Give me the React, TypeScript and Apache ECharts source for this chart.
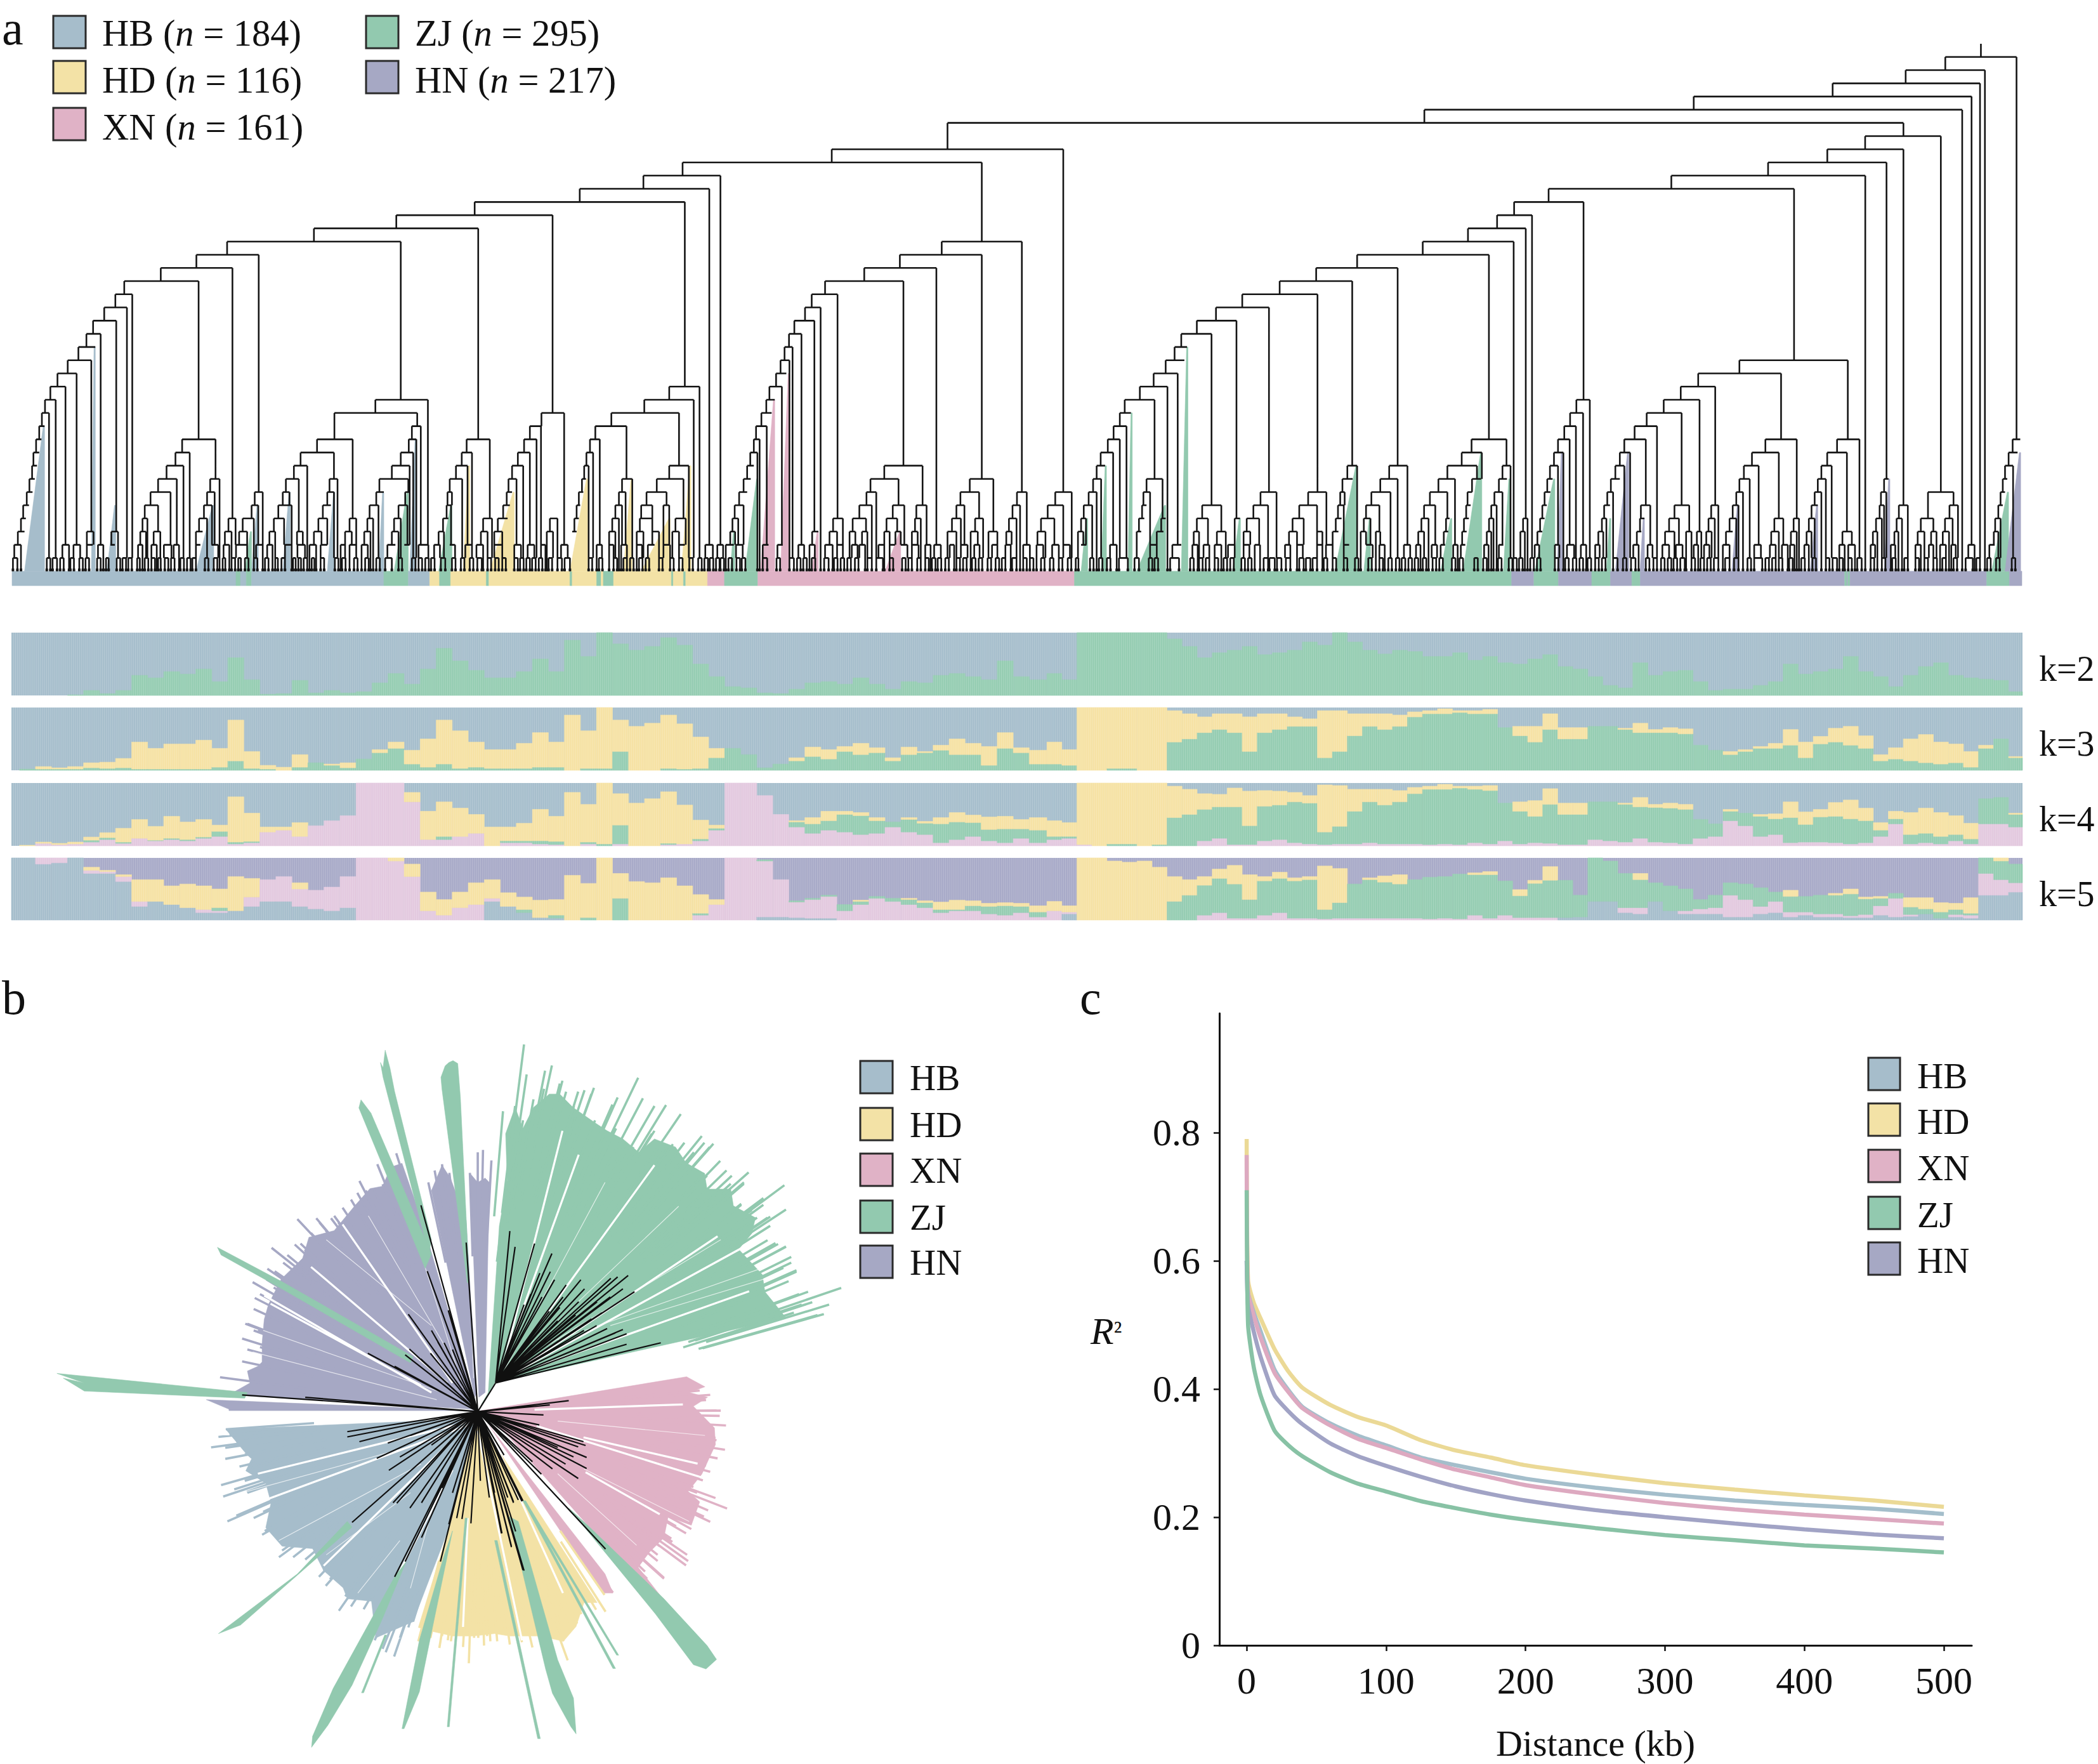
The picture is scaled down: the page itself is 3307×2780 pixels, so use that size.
import React, { useEffect, useRef } from "react";
import * as echarts from "echarts";

const SERIF = '"Liberation Serif"';
const palette: any = { HB: "#A6BDCB", HD: "#F3E2A6", XN: "#E0B2C6", ZJ: "#92C9AF", HN: "#A6A8C4" };
const soft: any = { HB: "#A6BECC", HD: "#F6E2A4", XN: "#E3C9DF", ZJ: "#95CDB2", HN: "#A8AAC8" };
const lineColor: any = { HB: "#A4BECB", HD: "#EBD996", XN: "#DDA9C0", ZJ: "#88C2A5", HN: "#A1A3C5" };

// ---- dendrogram: [level, xLeft, xRight, xLeft, xRight, ...] -------------
const spine = [
  [39, 4369, 4529], [38, 4280, 4458], [37, 4116, 4447], [36, 3804, 4428], [35, 3199, 4407], [34, 2128, 4275],
  [33, 4189, 4359], [32, 1868, 2388, 4104, 4275], [31, 1533, 2205, 3971, 4237],
];
const cladesA = [
  [30, 1445, 1618], [29, 1302, 1593], [28, 1066, 1538], [27, 890, 1241], [26, 705, 1074], [25, 510, 900], [24, 441, 581], [23, 361, 522], [22, 279, 446],
  [21, 259, 297], [20, 234, 285], [19, 209, 261], [18, 194, 226], [17, 176, 214], [16, 152, 205], [15, 129, 172], [14, 113, 147, 1503, 1571],
  [13, 101, 125, 843, 961, 1447, 1558], [12, 94, 110, 751, 937, 1216, 1267, 1373, 1525], [11, 88, 100, 925, 945, 1190, 1215, 1337, 1407],
  [10, 81, 93, 409, 484, 712, 792, 918, 935, 1048, 1100, 1177, 1205, 1325, 1347],
  [9, 75, 88, 394, 426, 675, 750, 900, 928, 1037, 1060, 1163, 1190, 1317, 1332],
  [8, 72, 83, 374, 412, 660, 690, 880, 920, 1024, 1050, 1150, 1175, 1312, 1322, 1503, 1547],
  [7, 66, 78, 355, 397, 472, 493, 642, 671, 740, 758, 852, 917, 1010, 1038, 1142, 1160, 1307, 1316, 1397, 1420, 1475, 1535],
  [6, 60, 73, 338, 383, 465, 482, 572, 590, 635, 650, 735, 750, 845, 862, 910, 920, 1005, 1015, 1138, 1150, 1300, 1310, 1390, 1405, 1452, 1497],
  [5, 52, 65, 325, 355, 458, 476, 565, 580, 625, 655, 725, 743, 830, 850, 895, 915, 1003, 1013, 1130, 1145, 1295, 1303, 1382, 1397, 1440, 1465, 1490, 1503],
  [4, 47, 58, 320, 331, 447, 465, 513, 529, 545, 570, 615, 638, 715, 735, 785, 800, 825, 838, 885, 900, 995, 1007, 1085, 1105, 1118, 1140, 1235, 1252, 1290, 1300, 1375, 1390, 1437, 1465, 1517, 1540],
  [3, 40, 55, 195, 210, 250, 265, 315, 328, 345, 360, 440, 455, 505, 520, 537, 555, 605, 618, 667, 680, 705, 722, 775, 790, 818, 832, 880, 895, 985, 997, 1080, 1095, 1110, 1128, 1228, 1242, 1285, 1295, 1368, 1382, 1430, 1445, 1465, 1480, 1510, 1525],
  [2, 32, 47, 140, 155, 165, 180, 195, 208, 220, 232, 248, 258, 310, 320, 340, 352, 368, 385, 390, 402, 440, 450, 475, 490, 502, 515, 530, 555, 575, 590, 600, 612, 640, 655, 668, 685, 695, 710, 720, 735, 765, 775, 785, 800, 812, 826, 870, 888, 908, 920, 940, 962, 975, 988, 1010, 1022, 1045, 1060, 1070, 1085, 1110, 1128, 1155, 1170, 1185, 1200, 1215, 1225, 1260, 1275, 1340, 1352, 1368, 1378, 1395, 1408, 1430, 1442, 1455, 1470, 1490, 1505, 1525, 1538],
  [1, 29, 39, 105, 113, 118, 128, 135, 143, 158, 166, 178, 186, 192, 200, 218, 226, 238, 244, 262, 270, 275, 283, 288, 296, 308, 314, 325, 333, 340, 348, 355, 361, 370, 378, 384, 392, 405, 413, 420, 428, 432, 440, 460, 468, 480, 488, 500, 506, 520, 528, 535, 541, 550, 558, 570, 578, 595, 603, 618, 624, 632, 640, 658, 664, 670, 676, 682, 690, 700, 706, 720, 728, 752, 760, 768, 776, 795, 803, 820, 828, 845, 853, 865, 880, 895, 903, 925, 933, 940, 948, 955, 963, 968, 976, 990, 1000, 1015, 1023, 1035, 1043, 1055, 1063, 1072, 1082, 1095, 1103, 1112, 1120, 1128, 1136, 1155, 1163, 1168, 1176, 1182, 1190, 1195, 1203, 1210, 1218, 1232, 1240, 1252, 1262, 1268, 1280, 1322, 1330, 1345, 1353, 1378, 1386, 1400, 1408, 1415, 1423, 1435, 1443, 1450, 1458, 1480, 1488, 1505, 1513, 1525, 1533, 1548, 1556],
];
const cladesB = [
  [25, 547, 727], [24, 453, 637, 1480, 1776], [23, 373, 535, 1388, 1571], [22, 285, 461, 1306, 1469], [21, 255, 313, 1222, 1391], [20, 240, 275, 1163, 1282],
  [19, 216, 261, 1120, 1209], [18, 204, 232, 1085, 1153], [17, 194, 212, 1070, 1098], [16, 185, 205, 1050, 1092], [15, 175, 198, 1023, 1077], [14, 160, 188, 992, 1054],
  [13, 153, 172, 958, 1025], [12, 142, 165, 947, 972], [11, 130, 154, 933, 962], [10, 125, 138, 920, 947], [9, 117, 133, 904, 932],
  [8, 110, 125, 418, 504, 895, 914, 1458, 1480, 1552, 1593], [7, 102, 118, 387, 450, 610, 663, 887, 905, 1007, 1043, 1447, 1470, 1532, 1571],
  [6, 92, 110, 378, 400, 589, 631, 716, 738, 802, 839, 877, 895, 1000, 1015, 1263, 1299, 1370, 1411, 1442, 1452, 1512, 1555],
  [5, 82, 102, 362, 390, 437, 463, 490, 513, 580, 598, 706, 723, 785, 820, 866, 885, 997, 1007, 1132, 1175, 1247, 1280, 1350, 1390, 1437, 1450, 1500, 1530],
  [4, 77, 90, 303, 325, 347, 377, 423, 447, 487, 500, 570, 590, 622, 640, 698, 715, 770, 800, 860, 871, 990, 1002, 1040, 1050, 1120, 1145, 1205, 1217, 1232, 1260, 1335, 1360, 1432, 1445, 1495, 1510],
  [3, 72, 83, 256, 270, 295, 312, 340, 353, 368, 380, 418, 430, 443, 455, 480, 493, 560, 580, 612, 628, 652, 672, 692, 704, 762, 780, 853, 865, 985, 995, 1030, 1045, 1113, 1125, 1165, 1185, 1225, 1240, 1327, 1345, 1390, 1402, 1425, 1438, 1488, 1500, 1522, 1532],
  [2, 16, 33, 43, 56, 62, 80, 85, 100, 145, 158, 178, 190, 225, 238, 250, 262, 285, 302, 312, 325, 345, 358, 362, 375, 405, 418, 430, 442, 455, 470, 480, 495, 510, 522, 530, 545, 565, 575, 590, 605, 620, 632, 660, 672, 690, 702, 730, 745, 760, 775, 795, 810, 820, 835, 860, 872, 925, 940, 1015, 1030, 1065, 1085, 1110, 1122, 1135, 1148, 1160, 1175, 1190, 1205, 1225, 1238, 1250, 1262, 1318, 1330, 1345, 1358, 1390, 1402, 1410, 1425, 1450, 1462, 1500, 1515, 1530, 1542],
  [1, 0, 8, 14, 22, 26, 34, 40, 48, 50, 58, 68, 76, 86, 94, 98, 106, 145, 155, 176, 184, 205, 215, 222, 230, 236, 244, 255, 263, 283, 293, 305, 313, 320, 328, 335, 343, 352, 360, 380, 390, 400, 415, 430, 438, 458, 466, 472, 480, 492, 500, 510, 518, 525, 533, 538, 546, 555, 563, 580, 588, 595, 603, 615, 623, 630, 638, 650, 658, 668, 676, 682, 690, 705, 715, 730, 738, 745, 753, 770, 778, 790, 798, 810, 818, 830, 838, 848, 854, 880, 888, 900, 908, 918, 926, 945, 965, 980, 990, 1012, 1020, 1025, 1033, 1060, 1080, 1105, 1113, 1125, 1133, 1140, 1148, 1160, 1168, 1180, 1188, 1195, 1203, 1220, 1228, 1235, 1243, 1270, 1280, 1283, 1295, 1300, 1310, 1320, 1330, 1350, 1360, 1365, 1375, 1380, 1390, 1405, 1413, 1425, 1433, 1450, 1458, 1475, 1483, 1505, 1513, 1530, 1538, 1550, 1558],
];
const cladesC = [
  [30, 615, 1048], [29, 341, 889], [28, 264, 419], [27, 226, 304], [26, 161, 290], [25, 60, 263], [16, 767, 1009], [15, 675, 860], [14, 636, 713],
  [13, 403, 433, 598, 678], [12, 389, 418, 560, 638], [11, 376, 402, 533, 583],
  [10, 169, 247, 362, 388, 510, 558, 825, 895, 985, 1035, 1377, 1394], [9, 147, 192, 353, 374, 500, 523, 795, 855, 963, 1007, 1368, 1388],
  [8, 115, 181, 238, 256, 344, 362, 490, 510, 777, 810, 950, 973, 1360, 1378],
  [7, 95, 132, 170, 190, 230, 248, 338, 350, 480, 500, 767, 790, 942, 960, 1090, 1100, 1355, 1365],
  [6, 76, 115, 160, 170, 220, 238, 332, 345, 472, 485, 760, 775, 935, 950, 1083, 1095, 1188, 1245, 1350, 1360],
  [5, 63, 88, 157, 167, 213, 225, 327, 337, 465, 478, 547, 568, 622, 655, 704, 720, 752, 765, 928, 942, 1080, 1090, 1123, 1143, 1236, 1255, 1345, 1355],
  [4, 57, 73, 112, 120, 152, 163, 208, 218, 284, 294, 322, 332, 460, 470, 545, 555, 610, 632, 698, 712, 745, 760, 845, 865, 888, 900, 922, 935, 1072, 1085, 1118, 1130, 1172, 1200, 1226, 1243, 1338, 1350],
  [3, 50, 63, 107, 117, 148, 158, 203, 213, 278, 288, 316, 327, 452, 463, 538, 548, 601, 622, 648, 660, 672, 682, 693, 705, 737, 752, 838, 855, 882, 895, 917, 928, 997, 1018, 1065, 1075, 1113, 1122, 1165, 1180, 1195, 1207, 1221, 1235, 1335, 1345],
  [2, 18, 32, 45, 55, 80, 92, 100, 110, 128, 138, 145, 155, 197, 207, 230, 240, 310, 320, 355, 365, 382, 398, 413, 425, 445, 455, 530, 542, 562, 573, 595, 610, 625, 640, 665, 675, 688, 700, 730, 745, 800, 815, 835, 848, 862, 875, 880, 890, 912, 922, 990, 1002, 1010, 1025, 1060, 1070, 1105, 1115, 1160, 1172, 1190, 1200, 1215, 1228, 1240, 1250, 1278, 1292, 1325, 1337],
  [1, 0, 8, 13, 21, 28, 36, 42, 50, 60, 68, 82, 90, 97, 105, 125, 133, 142, 150, 175, 183, 195, 203, 228, 236, 252, 260, 262, 270, 275, 283, 300, 308, 315, 323, 355, 363, 378, 386, 395, 403, 410, 418, 428, 436, 445, 453, 460, 468, 485, 495, 507, 515, 525, 535, 558, 566, 575, 583, 592, 600, 607, 615, 620, 628, 635, 645, 660, 668, 680, 688, 695, 703, 710, 720, 735, 745, 755, 765, 785, 793, 800, 818, 825, 833, 840, 848, 855, 863, 878, 886, 905, 913, 930, 938, 960, 968, 975, 985, 990, 998, 1010, 1018, 1030, 1040, 1060, 1068, 1085, 1093, 1108, 1116, 1135, 1143, 1160, 1168, 1180, 1188, 1200, 1208, 1220, 1228, 1245, 1253, 1272, 1288, 1296, 1304, 1320, 1328, 1340, 1348, 1375, 1383],
];
const rootStub = [4449, 39, 40];
// [xLeft, xRight, topLevel, group]: coloured subtree fills behind the branches
const tintsA: any[] = [[55, 100, 11, "HB"], [205, 214, 17, "HB"], [240, 260, 5, "HB"], [440, 480, 5, "HB"], [565, 580, 5, "HB"], [635, 652, 6, "HB"], [735, 752, 6, "HB"], [850, 862, 6, "HB"], [920, 935, 10, "HB"], [885, 917, 6, "ZJ"], [550, 565, 3, "ZJ"], [985, 1015, 5, "ZJ"], [1040, 1055, 8, "HD"], [1100, 1155, 6, "HD"], [1280, 1320, 7, "HD"], [1400, 1420, 7, "HD"], [1440, 1505, 4, "HD"], [1530, 1552, 8, "HD"]];
const tintsB: any[] = [[140, 172, 13, "XN"], [185, 205, 15, "XN"], [255, 270, 3, "XN"], [420, 455, 3, "XN"], [72, 82, 3, "ZJ"], [105, 134, 7, "ZJ"], [860, 875, 4, "ZJ"], [905, 917, 8, "ZJ"], [965, 975, 12, "ZJ"], [985, 1050, 5, "ZJ"], [1085, 1100, 17, "ZJ"], [1200, 1218, 4, "ZJ"], [1430, 1480, 8, "ZJ"], [1495, 1510, 4, "ZJ"]];
const tintsC: any[] = [[150, 192, 9, "ZJ"], [240, 255, 7, "ZJ"], [100, 125, 4, "ZJ"], [310, 355, 7, "ZJ"], [470, 480, 4, "ZJ"], [1330, 1368, 6, "ZJ"], [360, 372, 9, "HN"], [490, 520, 9, "HN"], [545, 555, 4, "HN"], [750, 765, 5, "HN"], [925, 942, 5, "HN"], [1090, 1103, 7, "HN"], [1360, 1395, 9, "HN"]];
// leaf strip: [from, to, group]
const leafStrip: any[] = [[27, 530, "HB"], [530, 540, "ZJ"], [540, 553, "HB"], [553, 565, "ZJ"], [565, 862, "HB"], [862, 917, "ZJ"], [917, 965, "HB"], [965, 987, "HD"], [987, 1012, "ZJ"], [1012, 1092, "HD"], [1092, 1098, "ZJ"], [1098, 1280, "HD"], [1280, 1285, "ZJ"], [1285, 1340, "HD"], [1340, 1350, "ZJ"], [1350, 1355, "HD"], [1355, 1378, "ZJ"], [1378, 1508, "HD"], [1508, 1512, "ZJ"], [1512, 1535, "HD"], [1535, 1540, "ZJ"], [1540, 1589, "HD"], [1589, 1627, "XN"], [1627, 1702, "ZJ"], [1702, 2413, "XN"], [2413, 3395, "ZJ"], [3395, 3445, "HN"], [3445, 3500, "ZJ"], [3500, 3575, "HN"], [3575, 3617, "ZJ"], [3617, 3665, "HN"], [3665, 3684, "ZJ"], [3684, 4143, "HN"], [4143, 4148, "ZJ"], [4148, 4150, "HN"], [4150, 4155, "ZJ"], [4155, 4462, "HN"], [4462, 4513, "ZJ"], [4513, 4541, "HN"]];

// ---- admixture proportions (percent), left half + right half ----------
const k2ZJ = [0,0,0,0,1,8,3,8,32,28,38,34,42,22,60,25,2,3,24,4,8,4,6,20,35,18,42,75,55,40,28,28,38,58,38,88,62,100,82,72,78,92,80,50,30,14,12,4,3,10,20,22,18,28,18,10,22,20,32,35,30,25,55,30,25,
  35,25,100,100,100,100,100,100,90,78,60,68,72,78,65,68,72,85,80,100,85,72,66,72,70,62,62,68,56,62,52,50,58,65,46,42,30,16,12,52,32,38,40,22,8,10,10,16,22,50,34,38,42,62,38,30,14,32,46,52,32,28,26,24,6];
const k3ZJ = [0,2,2,2,2,4,3,4,2,2,2,2,2,5,15,3,2,0,5,12,8,4,18,28,35,10,5,10,3,5,3,3,3,5,5,0,3,3,30,0,0,3,2,3,20,35,25,4,10,15,22,18,30,25,28,15,25,28,32,25,25,8,35,28,10,
  10,8,0,0,3,3,0,0,45,50,60,65,60,30,60,65,70,70,20,30,55,70,65,70,85,90,90,92,90,90,68,55,45,65,50,50,70,70,65,60,60,60,58,40,32,25,30,35,35,40,20,42,45,40,35,15,18,15,12,10,12,5,35,50,20];
const k3HD = [0,0,4,2,4,8,10,15,43,33,40,40,46,30,65,27,6,5,20,0,2,8,0,5,10,22,45,70,60,40,30,30,40,55,40,88,60,97,50,70,75,85,72,50,15,0,0,0,0,5,15,15,8,18,8,5,12,2,8,25,18,30,25,8,22,
  35,25,100,100,97,97,100,100,50,40,25,25,30,55,30,25,15,12,75,65,35,20,25,18,8,5,8,3,5,7,0,15,25,25,18,18,0,0,2,15,5,8,8,0,0,5,3,3,8,25,25,12,22,30,20,10,18,35,45,35,30,25,5,0,2];
const k4XN = [0,0,4,2,3,6,10,4,12,8,10,8,12,15,3,5,22,25,15,32,40,48,100,100,100,70,10,10,15,20,0,5,5,3,2,0,3,0,3,0,0,2,3,8,25,100,100,80,50,30,20,25,22,18,20,30,22,18,5,10,15,8,5,12,5,
  10,12,2,0,0,0,0,0,0,0,8,12,2,2,8,10,5,3,2,3,3,5,3,3,3,2,3,2,5,3,8,3,5,4,2,2,10,8,6,12,6,5,3,12,15,40,32,15,18,5,6,6,5,3,5,15,35,3,5,3,8,3,35,35,30];
const k4ZJ = [0,0,0,0,0,3,3,2,0,1,2,2,2,8,3,2,0,0,0,0,0,0,0,0,0,0,0,5,0,0,0,3,3,5,5,0,3,3,30,0,0,2,0,3,3,0,0,0,0,8,15,15,28,30,20,8,20,18,30,28,22,18,22,15,20,
  5,3,0,0,3,3,0,2,45,50,50,50,60,30,55,55,65,65,20,28,52,65,62,67,80,88,87,90,85,85,60,52,42,62,48,48,60,62,60,50,55,55,55,30,20,15,20,32,25,40,28,40,42,40,35,10,8,15,15,12,10,8,40,42,20];
const k4HD = [0,1,2,2,3,5,8,22,30,22,35,28,28,10,72,45,8,5,22,0,0,0,0,0,0,15,45,55,45,30,30,22,28,50,40,85,60,97,50,68,75,82,62,30,5,0,0,0,0,2,10,15,5,5,5,0,3,3,10,15,12,20,20,15,20,
  25,22,98,100,97,97,100,98,50,40,25,20,30,55,25,22,15,12,75,65,35,20,25,18,10,5,8,3,5,8,0,15,25,25,18,18,0,0,2,15,5,8,8,0,0,3,0,3,8,25,20,12,22,30,20,12,12,35,40,38,30,25,0,0,2];
const k5HB = [100,100,90,92,100,75,75,62,22,30,25,20,12,12,15,22,30,30,22,18,15,20,0,0,0,0,0,0,0,0,30,22,12,4,3,0,0,0,0,0,0,0,0,0,0,0,0,5,5,4,3,3,0,0,0,0,0,0,0,0,0,0,0,0,0,
  0,10,0,0,0,0,0,0,0,0,0,0,0,0,0,0,0,0,0,0,0,0,0,0,0,0,0,0,0,0,0,0,0,0,4,5,30,30,12,10,30,15,10,10,10,5,5,10,12,5,8,5,5,4,4,8,5,6,10,3,5,3,40,40,45];
const k5XN = [0,0,10,8,0,5,3,8,8,0,0,0,5,3,0,15,35,40,28,30,38,50,100,100,95,70,15,8,20,25,5,0,0,0,0,0,0,0,0,0,0,0,0,8,25,100,100,90,60,25,30,35,15,25,35,30,25,20,12,15,15,10,8,12,5,
  15,3,0,0,0,0,0,0,0,0,8,12,3,3,8,12,3,3,2,3,3,3,3,3,3,2,3,2,8,3,8,4,4,4,0,0,0,0,8,10,0,0,5,8,10,35,28,12,18,8,5,5,5,3,5,15,30,3,0,0,4,5,35,25,15];
const k5ZJ = [0,0,0,0,0,0,0,0,0,0,0,0,0,5,0,0,0,0,0,0,0,0,0,0,0,0,0,0,0,0,0,0,5,0,5,0,4,0,35,0,0,0,0,3,0,0,0,2,0,2,2,2,10,5,3,5,8,8,5,2,8,12,15,10,8,
  0,0,0,0,0,0,0,0,30,40,48,55,55,30,55,55,60,62,15,25,55,62,58,55,62,67,67,72,65,70,55,35,55,60,60,35,70,65,55,45,30,40,35,15,20,20,25,30,15,25,25,30,30,35,25,12,8,12,8,10,8,3,25,30,30];
const k5HD = [0,0,0,0,0,5,2,3,35,35,30,38,38,30,55,30,0,0,10,0,0,0,0,0,5,20,30,25,25,35,30,22,20,28,25,72,55,100,40,62,60,68,55,30,8,0,0,0,0,0,0,0,0,2,0,0,2,3,12,15,8,5,5,5,10,
  15,10,100,100,95,93,95,85,40,25,14,15,30,40,7,10,5,5,70,55,0,3,10,15,0,0,0,0,3,5,0,10,5,22,0,0,0,0,0,10,0,0,0,0,0,0,0,0,0,10,0,0,3,8,3,3,0,15,18,15,10,25,0,5,0];
const individualCount = 973;

// ---- panel b: outlines of the radial tree, as x,y pairs ----------------
const fanZJ = [855,815,881,769, 1434,634,1414,606,1394,579,1389,543,1344,490,1369,457,1376,424,1334,399,1329,364,1284,364,1279,331,1244,309,1224,276,1184,259,1154,287,1124,259,1094,242,1072,226,1029,193,1004,165,984,165,954,193,934,237,919,193,901,248,904,347,889,441,868,790];
const fanHN = [840,825, 375,795,415,770,410,745,430,735,438,726,438,686,442,637,450,606,474,553,515,509,527,465,575,451,615,398,643,363,667,358,683,318,704,310,745,440,832,770];
const fanHN2 = [842,800, 760,367,780,314,796,341,826,430,846,790];
const fanHN3 = [850,800, 834,332,848,350,862,341,870,350,862,790];
const bandHN = [845,828, 332,805,375,825,375,828];
const fanXN = [855,828, 1245,757,1280,778,1250,790,1285,800,1258,819,1298,864,1300,899,1274,961,1248,997,1270,1019,1254,1068,1210,1050,1202,1094,1174,1125,1153,1156,1202,1225,1057,1068,905,880];
const bandXN = [870,860, 1090,1170,1105,1210,1085,1210];
const fanHD = [852,850, 1075,1230,1050,1230,1035,1280,1011,1311,965,1300,950,1300,908,1300,880,1295,841,1300,800,1300,760,1290,735,1282,800,1050,845,850];
const fanHB = [842,845, 369,867,409,920,418,929,407,954,445,980,455,1021,445,1073,476,1112,534,1117,555,1163,592,1199,600,1222,646,1227,654,1304,725,1270,791,1080,845,850];
const spikesZJ = [
  [828,560, 780,155,778,130,786,106,793,99,801,95,810,101,815,172,832,560],
  [755,500, 668,130,663,99,668,110,672,73,681,110,690,160,760,470],
  [748,530, 622,194,626,177,645,205,760,500],
  [720,728, 474,572,360,502,353,486,476,558,725,715],
  [405,802, 100,787,60,760,100,770,48,750,410,790],
  [609,1072, 397,1277,355,1295,505,1170,600,1060],
  [712,1144, 690,1176,573,1410,534,1510,532,1533,563,1487,609,1403,667,1263],
  [671,1298, 627,1419,631,1419,675,1298],
  [800,1080, 783,1135,737,1309,704,1494,708,1494,737,1417,762,1282],
  [824,1053, 790,1490,794,1490,828,1053],
  [880,1100, 962,1515,967,1515,885,1100],
  [908,1050, 977,1369,990,1420,1025,1490,1035,1505,1030,1430,1000,1350,925,1060],
  [934,1017, 1105,1368,1110,1368,939,1017],
  [934,1017, 1112,1340,1116,1340,939,1017],
  [1021,1032, 1186,1254,1258,1360,1282,1369,1302,1349,1284,1320,1202,1222,1057,1068],
];
// branch tips reaching past the fans
const raysZJ = [1506,626,1516,606,1539,571,1476,579,1454,534,1444,506,1434,484,1414,477,1399,471,1434,407,1431,356,1404,422,1391,383,1349,395,1363,329,1354,350,1321,325,1309,305,1296,269,1274,253,1279,267,1234,207,1206,188,1184,190,1162,174,1153,131,1114,172,1104,187,1069,152,1051,157,1009,137,989,105,976,116,941,124,936,61,919,190,896,201,904,347,
  1459,584,1439,557,1454,537,1444,518,1429,529,1434,485,1419,479,1389,496,1404,441,1399,424,1379,424,1391,397,1369,408,1349,397,1354,353,1331,336,1329,353,1284,336,1289,276,1279,331,1259,287,1241,267,1219,270,1206,276,1184,242,1179,248,1154,287,1144,276,1129,270,1111,237,1089,248,1071,220,1064,165,1039,160,1031,190,1016,160,1004,143,974,154,954,176,934,220,1494,628,1484,601,1464,606,1449,623];
const raysHN = [358,758,400,677,406,646,424,592,420,559,448,531,456,487,486,502,500,480,505,427,541,425,569,425,575,420,591,403,607,386,623,347,657,312,693,289,754,350,766,325,780,312,794,330,833,330,848,287,858,282,874,304,480,600,460,570,430,660,410,700,400,725,
  422,615,434,584,446,553,462,536,478,518,511,478,519,491,531,456,547,434,559,451,583,434,599,420,619,372,635,367,651,367,667,354,683,314,422,660,434,695,410,646];
const raysHB = [369,867,355,883,341,905,368,929,360,984,364,1008,372,1060,438,1088,470,1135,497,1135,546,1176,559,1195,584,1247,607,1238,631,1244,652,1309,673,1334,689,1343,725,1270,395,945,410,1000,440,1040,520,1140,
  376,879,389,893,368,906,405,920,418,948,405,975,385,993,409,998,389,1048,422,1053,447,1039,443,1080,472,1099,476,1121,505,1108,534,1117,555,1163,567,1181,596,1217,621,1213,646,1222,667,1327,716,1282,700,1304];
const raysHD = [735,1311,775,1325,797,1311,820,1323,831,1357,841,1304,885,1311,909,1318,932,1313,952,1324,1019,1351,1011,1311,1037,1274,1091,1249,1089,1214,860,1320,780,1300,750,1305,
  758,1304,791,1309,849,1304,866,1300,895,1286,872,1311,973,1320,1009,1285,1019,1273,1045,1254,1073,1245];
const raysXN = [1270,786,1290,795,1310,828,1308,839,1320,859,1318,910,1304,928,1290,956,1276,974,1300,1011,1322,1033,1286,1037,1290,1061,1244,1085,1216,1096,1246,1130,1248,1143,1244,1152,1202,1180,1170,1180,1105,1209,1280,850,1300,885,1265,1000,1225,1070,1190,1130,
  1258,802,1282,806,1258,824,1302,828,1302,890,1282,943,1270,970,1258,988,1278,1050,1254,1076,1218,1068,1218,1103,1194,1112,1190,1143,1166,1165,1202,1178];
// [x1,y1,x2,y2]
const whiteGaps = [
  [884,766,1040,292],[884,770,1184,314],[890,768,1304,463],[900,760,1364,578],[895,762,1354,485],[888,770,1009,242],
  [591,438,800,770],[531,527,790,770],[442,587,760,790],[454,604,740,775],
  [850,850,447,1014],[790,900,555,1153],[696,1172,800,952],[845,848,430,960],
  [956,826,1238,815],[1049,884,1266,939],[1053,957,1194,1045],[960,860,1280,970],
  [848,870,932,1309],[829,1053,820,1281],[870,870,1010,1210],
];
const thinGaps = [[900,740,1090,350],[915,730,1230,400],[930,725,1310,470],[1000,680,1400,525],[1100,650,1400,550],[760,650,560,470],[800,720,640,420],[820,780,720,430],[840,760,830,420],[780,790,440,660],[770,805,420,705],[780,885,400,1000],[740,940,470,1100],[720,1000,560,1130],[700,1100,620,1210],[770,1000,720,1200],[1000,850,1280,880],[1050,950,1250,1060],[1000,960,1150,1110]];
const blackRaysNE = [909,452,919,485,956,478,989,499,986,537,966,540,994,554,1016,565,1044,554,1051,573,1101,551,1114,548,1134,545,1146,579,1124,573,1074,650,1094,656,1124,658,1131,667,1131,689,1196,686,1084,623,1064,636,1034,628,1004,612,984,620,949,584,936,606,1100,590,1075,600,1040,600,1010,590,970,590,1000,640,1050,660,1110,665];
const blackRaysC = [740,398,752,536,716,626,826,476,639,708,710,711,772,684,758,708,718,699,792,618,784,686,760,660,800,700,740,720,690,735,400,795,520,800,640,812,1021,807,985,816,973,837,965,858,1049,893,1053,901,1039,904,1055,926,1055,949,1015,940,1039,970,969,961,952,935,898,921,916,1019,934,1017,894,1085,912,1114,920,1081,936,1163,1091,1118,930,899,1000,905,1030,925,990,950,600,872,600,883,623,893,677,896,656,928,679,953,609,1062,687,1021,694,1022,719,1032,741,1021,741,1094,690,1176,710,1144,777,1144,793,1066,808,1053,818,1055,835,1064,853,975,893,1085,912,1112,934,1162,916,1021,932,1018,720,880,760,900,700,925,780,990,800,1000,905,1010,925,1015,880,1000,870,1010];

// ---- panel c ---------------------------------------------------------
const distanceKb = [0, 1, 5, 10, 20, 30, 40, 60, 80, 100, 125, 150, 175, 200, 250, 300, 350, 400, 450, 500];
const ldHD = [0.79, 0.57, 0.535, 0.51, 0.462, 0.427, 0.402, 0.375, 0.356, 0.343, 0.32, 0.304, 0.293, 0.281, 0.266, 0.253, 0.243, 0.234, 0.226, 0.216];
const ldHB = [0.6, 0.55, 0.52, 0.49, 0.43, 0.398, 0.372, 0.346, 0.327, 0.312, 0.293, 0.281, 0.27, 0.26, 0.246, 0.235, 0.226, 0.219, 0.213, 0.205];
const ldXN = [0.765, 0.55, 0.515, 0.48, 0.425, 0.395, 0.37, 0.343, 0.322, 0.308, 0.29, 0.274, 0.262, 0.25, 0.235, 0.222, 0.212, 0.204, 0.197, 0.19];
const ldHN = [0.6, 0.53, 0.49, 0.45, 0.39, 0.365, 0.345, 0.315, 0.295, 0.28, 0.263, 0.248, 0.236, 0.226, 0.211, 0.2, 0.19, 0.181, 0.173, 0.167];
const ldZJ = [0.71, 0.5, 0.435, 0.39, 0.335, 0.312, 0.295, 0.27, 0.252, 0.24, 0.225, 0.214, 0.204, 0.196, 0.183, 0.172, 0.164, 0.156, 0.151, 0.145];
const yTicks = [0, 0.2, 0.4, 0.6, 0.8];
const xTicks = [0, 100, 200, 300, 400, 500];

const legendA: any[] = [["HB", "184", 84, 25, 52], ["HD", "116", 84, 96, 126], ["XN", "161", 84, 170, 200], ["ZJ", "295", 577, 25, 52], ["HN", "217", 577, 96, 126]];
const groupsB = ["HB", "HD", "XN", "ZJ", "HN"];
const kLabels = ["k=2", "k=3", "k=4", "k=5"];

const toB = (x: number) => x + 1568;
const toC = (x: number) => 3135 + x * 1.006;
const same = (x: number) => x;

function collectBrackets() {
  const out: { a: number; b: number; l: number }[] = [];
  const add = (rows: number[][], f: (x: number) => number) =>
    rows.forEach((r) => { for (let i = 1; i < r.length; i += 2) out.push({ a: f(r[i]), b: f(r[i + 1]), l: r[0] }); });
  add(spine, same);
  add(cladesA, same);
  add(cladesB, toB);
  add(cladesC, toC);
  return out;
}
// left half of the admixture table was read on a coarser step than the right
const binEdge = (i: number) => Math.max(0, Math.min(individualCount, i < 65 ? 7.755 * (i - 0.5) : 504.6 + 7.27 * (i - 65 - 0.5)));

function App() {
  const ref = useRef<HTMLDivElement>(null);
  useEffect(() => {
    document.body.style.margin = "0";
    const chart = echarts.init(ref.current!, null, { renderer: "svg" });

    const dendroPolys: any[] = [];
    const tintRanges: number[][] = [];
    leafStrip.forEach((s) => dendroPolys.push({ p: [[s[0], -1.1], [s[1], -1.1], [s[1], 0], [s[0], 0]], c: palette[s[2]] }));
    const addTint = (rows: any[], f: (x: number) => number) => rows.forEach((t) => {
      dendroPolys.push({ p: [[f(t[0]), 0], [f(t[1]), 0], [f(t[1]), t[2]], [f(t[1]) - 3, t[2]]], c: palette[t[3]] });
      tintRanges.push([f(t[0]), f(t[1]) + 1, t[2] + 1]);
    });
    addTint(tintsA, same);
    addTint(tintsB, toB);
    addTint(tintsC, toC);

    const brackets = collectBrackets();
    const branch: any[] = [];
    const tips: any[] = [];
    const drop = (x: number, l: number) => {
      let to = 0;
      for (const c of brackets) if (c.l < l && c.l > to && x >= c.a - 2.5 && x <= c.b + 2.5) to = c.l;
      if (to === 0 && l > 1 && tintRanges.some((t) => x >= t[0] && x <= t[1] && l <= t[2])) return;
      branch.push([x, l], [x, to], [null, null]);
      if (to === 0) tips.push([x, 0.2], [x, 0], [null, null]);
    };
    brackets.forEach((c) => {
      branch.push([c.a, c.l], [c.b, c.l], [null, null]);
      drop(c.a, c.l); drop(c.b, c.l);
    });
    branch.push([rootStub[0], rootStub[1]], [rootStub[0], rootStub[2]]);

    const pairs = (a: number[]) => { const o: number[][] = []; for (let i = 0; i < a.length; i += 2) o.push([a[i], a[i + 1]]); return o; };
    const polySeries = (polys: any[], grid: number, z: number) => ({
      type: "custom", coordinateSystem: "cartesian2d", xAxisIndex: grid, yAxisIndex: grid, clip: false, silent: true, z,
      data: polys.map((_, i) => [i, 0]),
      renderItem: (params: any, api: any) => ({
        type: "polygon",
        shape: { points: polys[params.dataIndex].p.map((q: number[]) => api.coord(q)) },
        style: { fill: polys[params.dataIndex].c, stroke: polys[params.dataIndex].c, lineWidth: 0.6 },
      }),
    });
    const lineSeries = (data: any[], grid: number, color: string, width: number, z: number, opacity = 1) => ({
      type: "line", xAxisIndex: grid, yAxisIndex: grid, data, showSymbol: false, symbol: "none", connectNulls: false, clip: false, silent: true, z,
      lineStyle: { color, width, cap: "butt", join: "miter", opacity },
    });
    const segs = (ox: number, oy: number, t: number[]) => { const o: any[] = []; pairs(t).forEach((q) => o.push([ox, oy], q, [null, null])); return o; };
    // the outer part of a ray, which sticks out of its fan
    const tipSegs = (t: number[], cx: number, cy: number) => {
      const o: any[] = [];
      pairs(t).forEach((q) => o.push([cx + (q[0] - cx) * 0.65, cy + (q[1] - cy) * 0.65], q, [null, null]));
      return o;
    };

    const fans = [
      { p: pairs(fanHN), c: palette.HN }, { p: pairs(fanHN2), c: palette.HN }, { p: pairs(fanHN3), c: palette.HN }, { p: pairs(bandHN), c: palette.HN },
      { p: pairs(fanXN), c: palette.XN }, { p: pairs(bandXN), c: palette.XN }, { p: pairs(fanHD), c: palette.HD }, { p: pairs(fanHB), c: palette.HB }, { p: pairs(fanZJ), c: palette.ZJ },
    ];
    const spikes = spikesZJ.map((s) => ({ p: pairs(s), c: palette.ZJ }));
    const gapData: any[] = [];
    whiteGaps.forEach((g) => gapData.push([g[0], g[1]], [g[2], g[3]], [null, null]));
    const thinData: any[] = [];
    thinGaps.forEach((g) => thinData.push([g[0], g[1]], [g[2], g[3]], [null, null]));

    const stack = (rows: [number[], string][]) => {
      const polys: any[] = [];
      k2ZJ.forEach((_, i) => {
        let base = 0;
        rows.forEach(([d, g]) => {
          if (d[i] > 0) {
            const top = Math.min(100, base + d[i]);
            polys.push({ p: [[binEdge(i), base], [binEdge(i + 1), base], [binEdge(i + 1), top], [binEdge(i), top]], c: soft[g] });
          }
          base += d[i];
        });
      });
      return polys;
    };
    const hatch: any[] = [];
    for (let i = 1; i < individualCount; i++) hatch.push([i, 0], [i, 100], [null, null]);
    const kRect = (top: number, height: number, bg: string) => ({ left: 18, width: 3170, top, height, show: true, backgroundColor: soft[bg], borderWidth: 0, outerBoundsMode: "none" });
    const hiddenX = (gridIndex: number, min: number, max: number) => ({ type: "value", gridIndex, min, max, show: false, splitLine: { show: false } });
    const hiddenVal = (gridIndex: number, min: number, max: number, inverse = false) => ({ type: "value", gridIndex, min, max, show: false, inverse, splitLine: { show: false } });

    const ldLine = (name: string, d: number[]) => ({
      type: "line", name, xAxisIndex: 6, yAxisIndex: 6, data: distanceKb.map((x, i) => [x, d[i]]), showSymbol: false, symbol: "none", silent: true, smooth: 0.2,
      lineStyle: { color: lineColor[name], width: 6.5 },
    });

    const txt = (text: string, x: number, y: number, size = 57, extra: any = {}) => ({
      type: "text", silent: true, style: { text, x, y, fontFamily: SERIF, fontSize: size, fill: "#111", verticalAlign: "middle", ...extra },
    });
    const swatch = (x: number, y: number, w: number, h: number, g: string) => ({
      type: "rect", silent: true, shape: { x, y, width: w, height: h }, style: { fill: palette[g], stroke: "#2a2a2a", lineWidth: 3 },
    });
    const rich = {
      r: { fontFamily: SERIF, fontSize: 58.5, fill: "#111" },
      i: { fontFamily: SERIF, fontSize: 58.5, fontStyle: "italic", fill: "#111" },
    };

    const graphics: any[] = [
      txt("a", 3, 44, 76), txt("b", 3, 1572, 76), txt("c", 1702, 1572, 76),
      ...kLabels.map((k, i) => txt(k, 3214, [1054, 1172, 1291, 1409][i], 56)),
    ];
    legendA.forEach(([g, n, x, y, ty]) => {
      graphics.push(swatch(x, y, 51, 51, g));
      graphics.push({ type: "text", silent: true, style: { text: `{r|${g} (}{i|n}{r| = ${n})}`, x: x + 77, y: ty, verticalAlign: "middle", rich } });
    });
    const yB = [1672, 1746, 1818, 1892, 1963];
    const yC = [1667, 1739, 1812, 1886, 1958];
    groupsB.forEach((g, i) => {
      graphics.push(swatch(1356, yB[i], 51, 51, g), txt(g, 1434, yB[i] + 26));
      graphics.push(swatch(2945, yC[i], 50, 51, g), txt(g, 3022, yC[i] + 28));
    });
    graphics.push({ type: "text", silent: true, style: { text: "{i|R}{s|²}", x: 1719, y: 2098, verticalAlign: "middle", rich: { i: { fontFamily: SERIF, fontSize: 60, fontStyle: "italic", fill: "#111" }, s: { fontFamily: SERIF, fontSize: 42, fill: "#111" } } } });

    const axisFont = { fontFamily: SERIF, fontSize: 60, color: "#111" };
    chart.setOption({
      animation: false,
      backgroundColor: "#fff",
      grid: [
        { left: 19, width: 3168, top: 69, height: 854, show: false, outerBoundsMode: "none" },
        kRect(997, 99, "HB"), kRect(1115, 99, "HB"), kRect(1234, 99, "HB"), kRect(1352, 98, "HN"),
        { left: 50, width: 1300, top: 1600, height: 1180, show: false, outerBoundsMode: "none" },
        { left: 1922, width: 1186, top: 1597, height: 996, show: false, outerBoundsMode: "none" },
      ],
      xAxis: [
        hiddenX(0, 27, 4541),
        hiddenX(1, 0, individualCount), hiddenX(2, 0, individualCount), hiddenX(3, 0, individualCount), hiddenX(4, 0, individualCount),
        hiddenX(5, 0, 1568),
        {
          type: "value", gridIndex: 6, min: -19.6, max: 520, name: "Distance (kb)", nameLocation: "middle", nameGap: 125,
          nameTextStyle: { fontFamily: SERIF, fontSize: 58, color: "#111", lineHeight: 58 }, splitLine: { show: false },
          axisLine: { show: true, onZero: false, lineStyle: { color: "#111", width: 3 } },
          axisTick: { show: true, length: 9, customValues: xTicks, lineStyle: { color: "#111", width: 2.5 } },
          axisLabel: { show: true, margin: 26, customValues: xTicks, ...axisFont },
        },
      ],
      yAxis: [
        hiddenVal(0, -1.1, 40),
        hiddenVal(1, 0, 100), hiddenVal(2, 0, 100), hiddenVal(3, 0, 100), hiddenVal(4, 0, 100),
        hiddenVal(5, 0, 1568, true),
        {
          type: "value", gridIndex: 6, min: 0, max: 0.986, splitLine: { show: false },
          axisLine: { show: true, onZero: false, lineStyle: { color: "#111", width: 3 } },
          axisTick: { show: true, length: 9, customValues: yTicks, lineStyle: { color: "#111", width: 2.5 } },
          axisLabel: { show: true, margin: 30, customValues: yTicks, ...axisFont, formatter: (v: number) => (v === 0 ? "0" : v.toFixed(1)) },
        },
      ],
      graphic: { elements: graphics },
      series: [
        polySeries(dendroPolys, 0, 1),
        lineSeries(branch, 0, "#141414", 2.6, 2),
        lineSeries(tips, 0, "#141414", 4, 2),
        polySeries(stack([[k2ZJ, "ZJ"]]), 1, 1),
        polySeries(stack([[k3ZJ, "ZJ"], [k3HD, "HD"]]), 2, 1),
        polySeries(stack([[k4XN, "XN"], [k4ZJ, "ZJ"], [k4HD, "HD"]]), 3, 1),
        polySeries(stack([[k5HB, "HB"], [k5XN, "XN"], [k5ZJ, "ZJ"], [k5HD, "HD"]]), 4, 1),
        lineSeries(hatch, 1, "#ffffff", 1, 2, 0.2), lineSeries(hatch, 2, "#ffffff", 1, 2, 0.2),
        lineSeries(hatch, 3, "#ffffff", 1, 2, 0.2), lineSeries(hatch, 4, "#ffffff", 1, 2, 0.2),
        polySeries(fans, 5, 1),
        lineSeries(tipSegs(raysZJ, 848, 830), 5, palette.ZJ, 3.6, 1),
        lineSeries(tipSegs(raysHN, 848, 830), 5, palette.HN, 3.6, 1),
        lineSeries(tipSegs(raysHB, 848, 830), 5, palette.HB, 3.6, 1),
        lineSeries(tipSegs(raysHD, 848, 830), 5, palette.HD, 3.6, 1),
        lineSeries(tipSegs(raysXN, 848, 830), 5, palette.XN, 3.6, 1),
        lineSeries(thinData, 5, "#ffffff", 1.2, 2, 0.7),
        lineSeries(gapData, 5, "#ffffff", 3.2, 2),
        polySeries(spikes, 5, 3),
        lineSeries([...segs(882, 770, blackRaysNE), ...segs(848, 830, blackRaysC), [848, 830], [882, 770]], 5, "#101010", 2.2, 4),
        ldLine("HD", ldHD), ldLine("HB", ldHB), ldLine("XN", ldXN), ldLine("HN", ldHN), ldLine("ZJ", ldZJ),
      ],
    });
    return () => chart.dispose();
  }, []);
  return <div ref={ref} style={{ position: "absolute", left: 0, top: 0, width: 3307, height: 2780 }} />;
}

export default App;
